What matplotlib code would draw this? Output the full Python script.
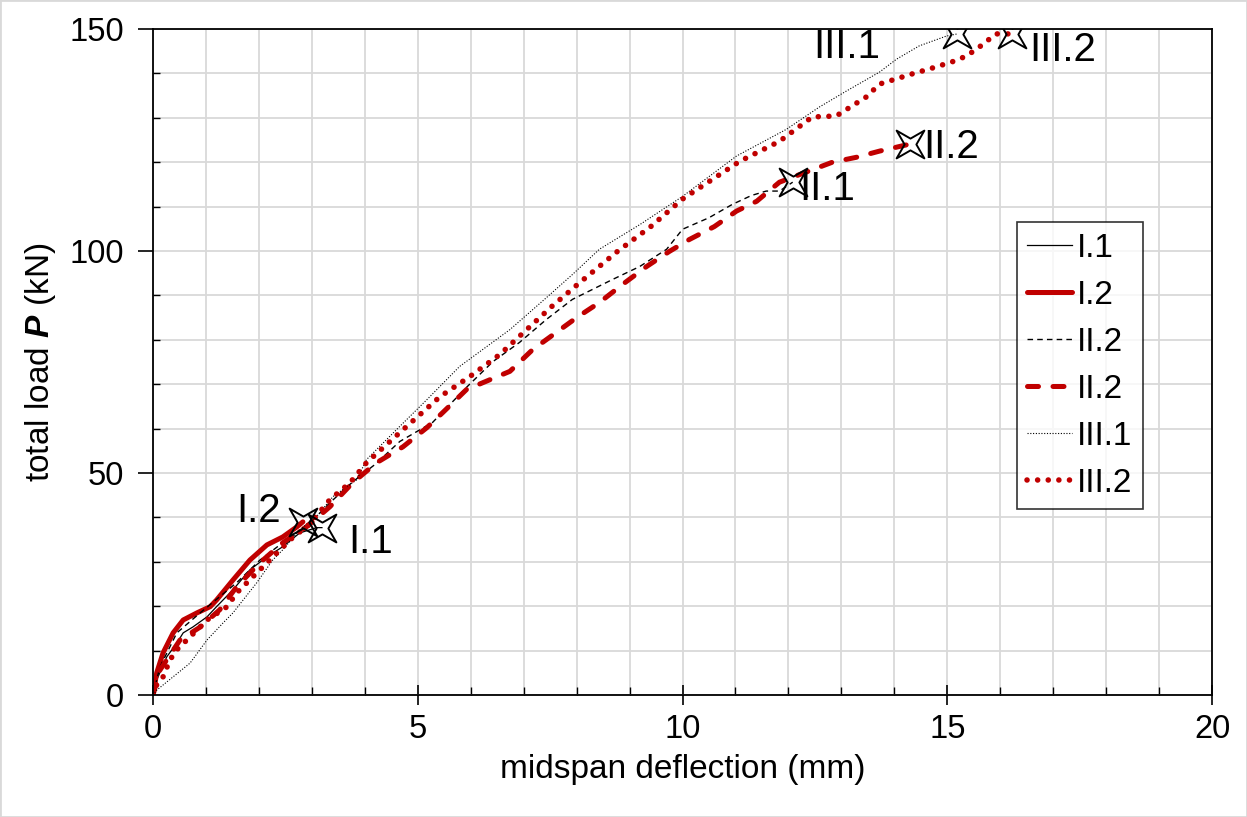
import matplotlib
matplotlib.use("Agg")
import matplotlib.pyplot as plt
from matplotlib.patches import Rectangle
from matplotlib.path import Path
from matplotlib.transforms import Affine2D

plt.rcParams['font.family'] = ['Liberation Sans', 'DejaVu Sans']
plt.rcParams['mathtext.fontset'] = 'custom'
plt.rcParams['mathtext.bf'] = 'Liberation Sans:bold:italic'
plt.rcParams['mathtext.rm'] = 'Liberation Sans'

# ---- data (midspan deflection in mm, total load in kN) ----
i1_x = [0, 0.07, 0.26, 0.45, 0.57, 0.75, 1.02, 1.2, 1.51, 1.83, 2.15, 2.45, 2.77, 3.09, 3.19]
i1_p = [0, 3.4, 8.6, 11.7, 14.0, 15.3, 17.6, 19.9, 23.7, 28.2, 31.1, 33.4, 36.5, 37.7, 37.7]

i2_x = [0, 0.07, 0.19, 0.38, 0.57, 0.83, 1.08, 1.2, 1.51, 1.83, 2.15, 2.45, 2.72, 2.83]
i2_p = [0, 5.0, 9.5, 14.0, 16.9, 18.5, 19.9, 21.4, 25.9, 30.4, 33.8, 35.6, 37.9, 39.0]

ii1_x = [0, 0.13, 0.45, 0.89, 1.58, 2.02, 2.45, 2.9, 3.34, 3.77, 4.2, 4.66, 5.28, 5.92,
         6.42, 6.92, 7.43, 7.92, 8.68, 9.19, 9.7, 10.0, 10.5, 10.94, 11.3, 11.58, 11.83, 12.08]
ii1_p = [0, 6.3, 14.0, 18.5, 25.3, 30.4, 34.3, 37.9, 43.3, 48.0, 52.0, 57.1, 61.4, 69.3,
         75.1, 79.4, 84.6, 89.1, 93.6, 96.5, 100.4, 104.9, 107.5, 110.5, 112.5, 113.5, 113.5, 115.5]

ii2_x = [0, 0.13, 0.51, 0.89, 1.26, 1.58, 2.02, 2.45, 2.9, 3.34, 3.77, 4.22, 4.72, 5.17,
         5.47, 5.92, 6.74, 7.17, 7.62, 8.0, 8.43, 8.87, 9.32, 9.75, 10.13, 10.6, 11.02,
         11.4, 11.83, 12.34, 12.83, 13.28, 13.72, 14.3]
ii2_p = [0, 5.6, 12.4, 15.3, 19.2, 24.4, 29.8, 34.3, 37.9, 42.4, 47.8, 52.3, 55.9, 60.2,
         63.6, 68.8, 72.9, 77.8, 81.7, 85.0, 88.4, 92.5, 96.5, 99.9, 102.6, 105.5, 109.0,
         111.2, 115.5, 117.8, 120.0, 121.1, 122.5, 124.1]

iii1_x = [0, 0.07, 0.38, 0.7, 1.02, 1.32, 1.51, 1.96, 2.26, 2.45, 2.77, 3.09, 3.4, 3.85,
          4.03, 4.66, 5.17, 5.79, 6.74, 7.43, 7.92, 8.43, 9.2, 10.0, 11.02, 11.96, 12.58,
          13.09, 13.72, 14.04, 14.47, 14.98, 15.19]
iii1_p = [0, 1.1, 4.1, 7.2, 12.4, 16.2, 18.5, 25.3, 30.4, 32.7, 37.2, 40.2, 44.7, 48.5,
          53.0, 60.5, 66.5, 74.0, 82.3, 89.5, 94.7, 100.4, 106.0, 112.3, 121.4, 127.4, 132.4,
          136.0, 140.3, 143.2, 146.2, 148.4, 148.9]

iii2_x = [0, 0.04, 0.19, 0.32, 0.45, 0.7, 1.02, 1.4, 1.58, 1.96, 2.34, 2.64, 2.96, 3.34,
          3.72, 4.03, 4.66, 5.42, 5.98, 6.55, 7.02, 7.53, 8.06, 8.77, 9.4, 10.0, 11.08,
          11.83, 12.45, 12.9, 13.47, 13.72, 14.34, 14.66, 15.09, 15.36, 15.6, 15.92, 16.23]
iii2_p = [0, 1.8, 4.1, 7.9, 10.2, 13.1, 16.9, 19.9, 23.0, 27.5, 32.0, 35.5, 38.5, 44.0,
          47.8, 52.3, 59.1, 67.2, 71.7, 76.7, 81.9, 87.5, 92.9, 99.9, 105.5, 111.7, 120.2,
          124.7, 130.2, 130.4, 134.7, 137.6, 139.9, 141.0, 142.6, 143.9, 145.9, 148.9, 148.9]

legend_labels = ['I.1', 'I.2', 'II.2', 'II.2', 'III.1', 'III.2']
end_labels = ['I.1', 'I.2', 'II.1', 'II.2', 'III.1', 'III.2']

RED = '#C00000'

fig = plt.figure(figsize=(12.47, 8.17), dpi=100)
ax = fig.add_axes([0.1227, 0.1493, 0.972 - 0.1227, 0.9645 - 0.1493])

ax.plot(i1_x, i1_p, color='black', lw=0.9, label=legend_labels[0])
ax.plot(i2_x, i2_p, color=RED, lw=3.6, label=legend_labels[1], solid_capstyle='round')
ax.plot(ii1_x, ii1_p, color='black', lw=1.0, dashes=(4, 3), label=legend_labels[2])
ax.plot(ii2_x, ii2_p, color=RED, lw=3.6, dashes=(2.2, 2.9), dash_capstyle='round',
        label=legend_labels[3])
ax.plot(iii1_x, iii1_p, color='black', lw=0.8, dashes=(1, 1.5), label=legend_labels[4])
ax.plot(iii2_x, iii2_p, color=RED, lw=4.0, dashes=(0.01, 1.9), dash_capstyle='round',
        label=legend_labels[5])

# failure markers (4-pointed star) at the end of each series
star = Affine2D().rotate_deg(45).transform_path(Path.unit_regular_star(4, 0.3))
ends_x = [i1_x[-1], i2_x[-1], ii1_x[-1], ii2_x[-1], iii1_x[-1], iii2_x[-1]]
ends_p = [i1_p[-1], i2_p[-1], ii1_p[-1], ii2_p[-1], iii1_p[-1], iii2_p[-1]]
ax.plot(ends_x, ends_p, ls='none', marker=star, ms=20, mfc='none',
        mec='black', mew=1.4, zorder=5)

# end labels
fs_lab = 29
ax.text(3.68, 34.5, end_labels[0], fontsize=fs_lab, ha='left', va='center')
ax.text(2.42, 41.5, end_labels[1], fontsize=fs_lab, ha='right', va='center')
ax.text(12.2, 114.0, end_labels[2], fontsize=fs_lab, ha='left', va='center')
ax.text(14.55, 123.5, end_labels[3], fontsize=fs_lab, ha='left', va='center')
ax.text(13.1, 146.0, end_labels[4], fontsize=fs_lab, ha='center', va='center')
ax.text(16.55, 145.3, end_labels[5], fontsize=fs_lab, ha='left', va='center')

ax.set_xlim(0, 20)
ax.set_ylim(0, 150)
ax.set_xticks([0, 5, 10, 15, 20])
ax.set_yticks([0, 50, 100, 150])
ax.set_xticks(range(0, 21), minor=True)
ax.set_yticks(range(0, 151, 10), minor=True)
ax.grid(True, which='both', color='#D9D9D9', lw=1.3)
ax.set_axisbelow(True)

ax.tick_params(axis='x', which='major', direction='inout', length=14, width=1.2,
               labelsize=23.5, pad=7)
ax.tick_params(axis='x', which='minor', direction='in', length=6, width=1.0)
ax.tick_params(axis='y', which='major', direction='out', length=11, width=1.2,
               labelsize=23.5, pad=10)
ax.tick_params(axis='y', which='minor', direction='in', length=5, width=1.0)
for s in ax.spines.values():
    s.set_color('black')
    s.set_linewidth(1.3)

ax.set_xlabel('midspan deflection (mm)', fontsize=24, labelpad=6)
ax.set_ylabel(r'total load $\mathbf{P}$ (kN)', fontsize=24, labelpad=8)

leg = ax.legend(loc='upper right', bbox_to_anchor=(0.935, 0.710), borderaxespad=0,
                fontsize=24, frameon=True, fancybox=False, edgecolor='black',
                handlelength=1.35, handletextpad=0.15, labelspacing=0.48,
                borderpad=0.32)
leg.get_frame().set_linewidth(1.2)

fig.add_artist(Rectangle((0, 0), 1, 1, transform=fig.transFigure, fill=False,
                         edgecolor='#D9D9D9', lw=2))

fig.savefig('out.png', dpi=100)
